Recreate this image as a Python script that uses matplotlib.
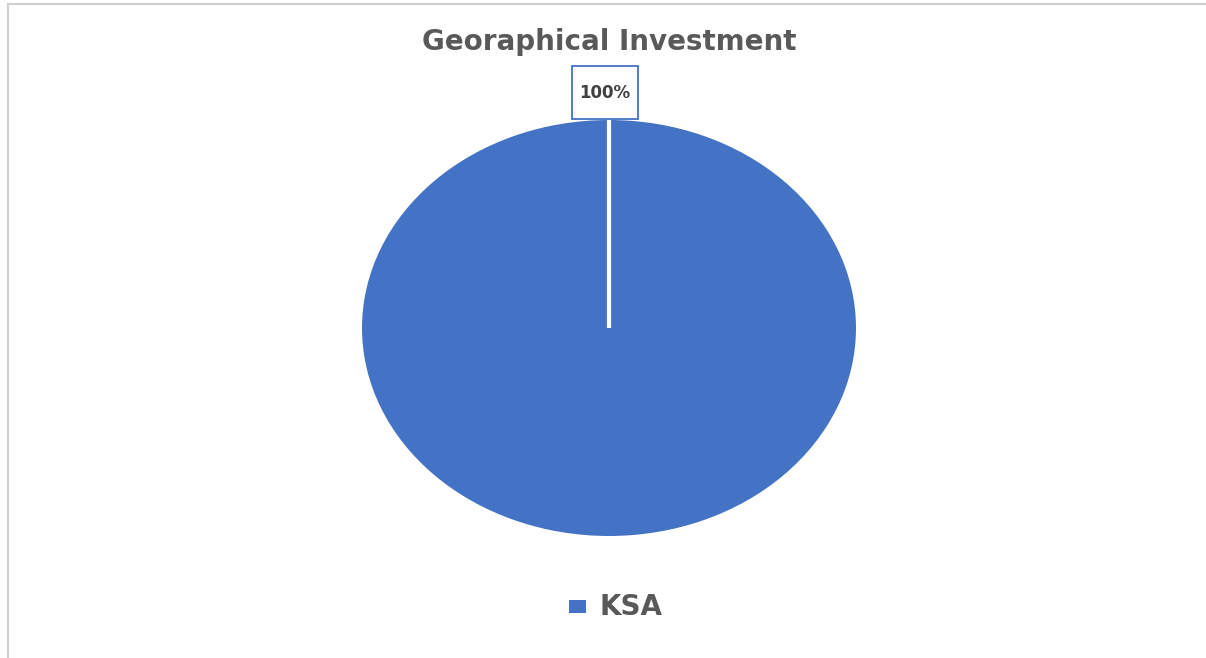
import matplotlib.pyplot as plt
from matplotlib.patches import Rectangle
from matplotlib.lines import Line2D

regions = ["KSA"]
shares = [100]
colors = ["#4472C4"]
title = "Georaphical Investment"

W, H = 1206, 658
fig = plt.figure(figsize=(W / 100, H / 100), dpi=100)
fig.patch.set_facecolor("white")

def fx(px):
    return px / W

def fy(py):
    return 1 - py / H

# chart frame (left and top edges only visible)
fig.add_artist(Line2D([fx(8), fx(1206)], [fy(3.5), fy(3.5)], color="#d0d0d0", lw=1.5))
fig.add_artist(Line2D([fx(8), fx(8)], [fy(3.5), fy(658)], color="#d0d0d0", lw=1.5))

# pie area, slightly wider than tall
ax = fig.add_axes([fx(362), fy(536), fx(494), 416 / H])
wedges, _ = ax.pie(shares, colors=colors, startangle=90, counterclock=False, radius=1)
ax.set_aspect("auto")
ax.set_xlim(-1, 1)
ax.set_ylim(-1, 1)
ax.axis("off")
# separator line where the slice starts
ax.plot([0, 0], [0, 1], color="white", lw=3, solid_capstyle="butt")

# data label box
total = sum(shares)
fig.add_artist(Rectangle((fx(572), fy(119)), fx(66), 53 / H, transform=fig.transFigure,
                         facecolor="white", edgecolor="#4472C4", lw=1.3))
fig.text(fx(605), fy(93), f"{shares[0] / total * 100:.0f}%", ha="center", va="center",
         fontsize=12, fontweight="bold", color="#404040", family="DejaVu Sans")

fig.text(fx(609), fy(42), title, ha="center", va="center", fontsize=20,
         fontweight="bold", color="#595959", family="DejaVu Sans")

# legend
fig.add_artist(Rectangle((fx(569), fy(613)), fx(17), 13 / H, transform=fig.transFigure,
                         facecolor=colors[0], edgecolor="none"))
fig.text(fx(600), fy(607), regions[0], ha="left", va="center", fontsize=20,
         fontweight="bold", color="#595959", family="DejaVu Sans")

fig.savefig("out.png", dpi=100)
